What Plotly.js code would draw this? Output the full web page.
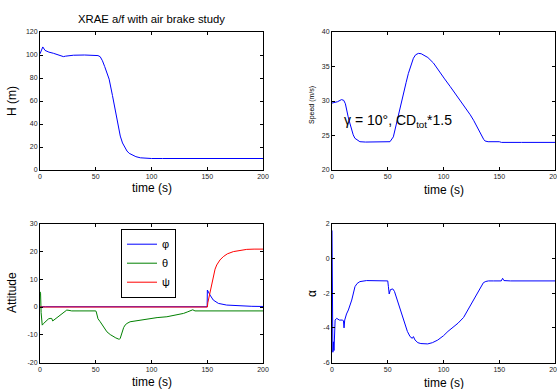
<!DOCTYPE html>
<html>
<head>
<meta charset="utf-8">
<script src="https://cdn.plot.ly/plotly-3.0.1.min.js"></script>
<style>html,body{margin:0;padding:0;background:#fff;overflow:hidden;}#chart{width:557px;height:389px;}</style>
</head>
<body>
<div id="chart"></div>
<script>
// ---- Data ----
const hT = [0,1,2.5,4.5,8,12,16,19.5,21,23,26,30,40,50,52,54,56,58,60,62,65,68,70,72,74,76,78,80,83,86,90,94,100,110,120,123,125,130,138,140,150,170,200];
const hV = [101,104,107,104,102.5,101.5,100,99.2,98.6,99,99.6,99.8,100,100,99.5,98.5,95,90,85,79,64.7,49,39,29.5,23.5,19.3,16.5,14.5,12.7,11.6,10.6,10.2,10,10,10,9.7,9.5,9.5,9.5,10,10,10,10];

const spT = [0,2,5,8.5,10.5,12,13,14.5,16,17.5,19,20.5,22,25,30,40,50,52,55,57,59.5,62,64,66.5,68.5,71,73,75,77.5,80,82,86,91,97,101,106,110,115,120,124,127,130,132.5,134.4,136,137.3,140,150,152,170,200];
const spV = [29.7,29.8,29.9,30.2,30.1,29.6,28.7,27.7,26.8,25.9,25.1,24.6,24.4,24.1,24.05,24.05,24.05,24.1,24.8,26.2,28.2,29.8,31.1,32.7,34,35.4,36.2,36.7,36.9,36.85,36.7,36.3,35.5,34,33.2,32.1,31.2,30.1,29,28,27.2,26.3,25.5,24.8,24.45,24.2,24.1,24.1,24,24,24];

const phiT = [0,1,5,20,50,80,100,149.9,150.1,150.8,152.5,155.4,160,167.4,179.4,190,200];
const phiV = [0,0.1,0.1,0.1,0.1,0.1,0.1,0.1,6.1,5.5,4.3,2.5,1.3,0.7,0.35,0.25,0.2];

const thetaT = [0,0.5,1,2,3,4.5,6,7.5,9,10.5,11.4,13,15,18,21,24,26,28.4,35,50,50.5,51,52,54,57,60,63,66,68,70.4,71.2,72,73.4,75,76.3,78,80.8,85,90,98.8,105,113.8,120,125,128.7,132,136,137,139,145,149,150,151,155,200];
const thetaV = [5.5,5,-2,-6.5,-6,-5.3,-4.8,-4.3,-4.1,-4.1,-5,-4.5,-3.8,-2.8,-1.7,-1.1,-1.2,-1.4,-1.4,-1.4,-1.8,-2.9,-4.2,-5.3,-7.3,-8.9,-9.9,-10.7,-11.1,-11.5,-11.6,-11.2,-8.9,-7.4,-6.5,-5.9,-5.3,-5,-4.7,-4.1,-3.8,-3.5,-3.1,-2.7,-2.3,-1.8,-1.1,-1.0,-1.4,-1.4,-1.4,-1.6,-1.5,-1.4,-1.4];

const psiT = [0,20,50,80,100,140,149.9,150.1,150.5,151.5,152.5,154,155.4,157,158.5,161.4,164.4,168,173.4,180,185.4,192,200];
const psiV = [0,0,0,-0.1,-0.2,-0.2,-0.2,0,1.5,3.5,5.5,8.8,11.5,13.6,15.1,16.9,18.1,19.1,19.9,20.4,20.7,20.8,20.8];

const alT = [0,0.5,0.8,1.3,1.8,2.3,2.8,4.2,6.6,9.6,10.3,10.8,11.4,13,14.7,17.7,19.5,20.6,22.5,25,31,49.4,50,50.6,51.3,52.4,54.5,56,57,59,61.5,64,67.6,70,72,73,74.5,77,79.7,85.8,90,94.8,100,104,108,113,118,122,126,131,134,135.8,138,140.3,145,151.8,153,154.2,160,200];
const alV = [1.6,-1.7,-5.4,-4.8,-5.3,-4.3,-3.55,-3.45,-3.55,-3.55,-3.6,-4.0,-3.55,-3.2,-2.97,-2.4,-1.9,-1.63,-1.45,-1.34,-1.28,-1.28,-1.3,-1.63,-2.05,-1.8,-1.76,-1.9,-2.1,-2.55,-3.05,-3.55,-4.2,-4.5,-4.6,-4.5,-4.7,-4.85,-4.9,-4.92,-4.85,-4.7,-4.45,-4.2,-4.0,-3.73,-3.4,-2.95,-2.45,-1.9,-1.55,-1.4,-1.33,-1.3,-1.3,-1.3,-1.15,-1.28,-1.3,-1.3];

const xTicks = [0,50,100,150,200];
const hTicks = [0,20,40,60,80,100,120];
const spTicks = [20,25,30,35,40];
const attTicks = [-20,-10,0,10,20,30];
const alTicks = [-6,-4,-2,0,2];

const legendNames = ['\u03C6','\u03B8','\u03C8'];
const titleText = 'XRAE a/f with air brake study';
const noteText = '\u03B3 = 10\u00B0, CD<sub>tot</sub>*1.5';

// ---- Layout helpers ----
const W = 557, H = 389;
const FONT = 'Liberation Sans, Arial, sans-serif';
const BLUE = '#0000ff', GREEN = '#008000', RED = '#ff0000';

function px(x){ return x / W; }
function py(y){ return 1 - y / H; }

function axisBase(domain, range, ticks){
  return {
    domain: domain, range: range, tickvals: ticks, ticktext: ticks.map(String),
    showline: true, mirror: 'ticks', linecolor: '#000', linewidth: 1,
    ticks: 'inside', ticklen: 3, tickcolor: '#000', tickwidth: 1,
    showgrid: false, zeroline: false, fixedrange: true,
    ticklabeloverflow: 'allow',
    tickfont: {family: FONT, size: 7, color: '#222'}
  };
}

const xL = [px(40), px(263)];
const xR = [px(332), px(555)];
const yT = [py(170), py(32)];
const yB = [py(362.7), py(223.5)];

const traces = [
  {x: hT, y: hV, xaxis: 'x', yaxis: 'y', mode: 'lines', line: {color: BLUE, width: 1}, showlegend: false},
  {x: spT, y: spV, xaxis: 'x2', yaxis: 'y2', mode: 'lines', line: {color: BLUE, width: 1}, showlegend: false},
  {x: phiT, y: phiV, xaxis: 'x3', yaxis: 'y3', mode: 'lines', name: legendNames[0], line: {color: BLUE, width: 1}},
  {x: thetaT, y: thetaV, xaxis: 'x3', yaxis: 'y3', mode: 'lines', name: legendNames[1], line: {color: GREEN, width: 1}},
  {x: psiT, y: psiV, xaxis: 'x3', yaxis: 'y3', mode: 'lines', name: legendNames[2], line: {color: RED, width: 1}},
  {x: alT, y: alV, xaxis: 'x4', yaxis: 'y4', mode: 'lines', line: {color: BLUE, width: 1}, showlegend: false}
];

const layout = {
  width: W, height: H,
  margin: {l: 0, r: 0, t: 0, b: 0},
  paper_bgcolor: '#fff', plot_bgcolor: '#fff',
  font: {family: FONT, color: '#000'},
  xaxis: Object.assign(axisBase(xL, [0,200], xTicks), {anchor: 'y'}),
  yaxis: Object.assign(axisBase(yT, [0,120], hTicks), {anchor: 'x'}),
  xaxis2: Object.assign(axisBase(xR, [0,200], xTicks), {anchor: 'y2'}),
  yaxis2: Object.assign(axisBase(yT, [20,40], spTicks), {anchor: 'x2'}),
  xaxis3: Object.assign(axisBase(xL, [0,200], xTicks), {anchor: 'y3'}),
  yaxis3: Object.assign(axisBase(yB, [-20,30], attTicks), {anchor: 'x3'}),
  xaxis4: Object.assign(axisBase(xR, [0,200], xTicks), {anchor: 'y4'}),
  yaxis4: Object.assign(axisBase(yB, [-6,2], alTicks), {anchor: 'x4'}),
  showlegend: true,
  legend: {
    x: px(121), y: py(228.7), xanchor: 'left', yanchor: 'top',
    bgcolor: '#fff', bordercolor: '#000', borderwidth: 1,
    font: {family: FONT, size: 11, color: '#000'},
    itemwidth: 30, tracegroupgap: 0, entrywidth: 8, entrywidthmode: 'pixels'
  },
  annotations: [
    {text: titleText, xref: 'paper', yref: 'paper', x: px(151.5), y: py(19), xanchor: 'center', yanchor: 'middle', showarrow: false, font: {family: FONT, size: 11.3}},
    {text: 'time (s)', xref: 'paper', yref: 'paper', x: px(151.5), y: py(188), xanchor: 'center', yanchor: 'middle', showarrow: false, font: {family: FONT, size: 12}},
    {text: 'time (s)', xref: 'paper', yref: 'paper', x: px(443.5), y: py(190), xanchor: 'center', yanchor: 'middle', showarrow: false, font: {family: FONT, size: 12}},
    {text: 'time (s)', xref: 'paper', yref: 'paper', x: px(151.5), y: py(382), xanchor: 'center', yanchor: 'middle', showarrow: false, font: {family: FONT, size: 12}},
    {text: 'time (s)', xref: 'paper', yref: 'paper', x: px(443.5), y: py(383), xanchor: 'center', yanchor: 'middle', showarrow: false, font: {family: FONT, size: 12}},
    {text: 'H (m)', xref: 'paper', yref: 'paper', x: px(12), y: py(101), xanchor: 'center', yanchor: 'middle', textangle: -90, showarrow: false, font: {family: FONT, size: 12}},
    {text: 'Speed (m/s)', xref: 'paper', yref: 'paper', x: px(312), y: py(105), xanchor: 'center', yanchor: 'middle', textangle: -90, showarrow: false, font: {family: FONT, size: 7}},
    {text: 'Attitude', xref: 'paper', yref: 'paper', x: px(12), y: py(293), xanchor: 'center', yanchor: 'middle', textangle: -90, showarrow: false, font: {family: FONT, size: 12}},
    {text: '\u03B1', xref: 'paper', yref: 'paper', x: px(312), y: py(294), xanchor: 'center', yanchor: 'middle', textangle: -90, showarrow: false, font: {family: FONT, size: 12}},
    {text: noteText, xref: 'paper', yref: 'paper', x: px(342), y: py(121), xanchor: 'left', yanchor: 'middle', showarrow: false, font: {family: FONT, size: 14}}
  ]
};

Plotly.newPlot('chart', traces, layout, {displayModeBar: false, staticPlot: true});
</script>
</body>
</html>
